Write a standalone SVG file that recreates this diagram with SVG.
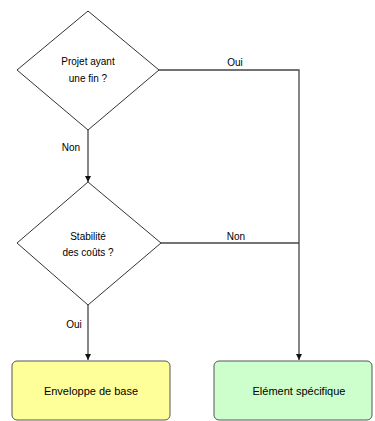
<svg xmlns="http://www.w3.org/2000/svg" width="375" height="421" viewBox="0 0 375 421">
<style>
.dia{fill:#ffffff;stroke:#333333;stroke-width:1}
.box{stroke:#555555;stroke-width:1}
.t{font-family:"Liberation Sans",Arial,sans-serif;font-size:10px;fill:#000;text-anchor:middle}
.lbl{font-family:"Liberation Sans",Arial,sans-serif;font-size:10px;fill:#000;text-anchor:middle}
.ln{fill:none;stroke:#444444;stroke-width:1.3}
</style>
<defs>
<marker id="arr" viewBox="0 0 10 10" refX="10" refY="5" markerWidth="6" markerHeight="6" markerUnits="userSpaceOnUse" orient="auto">
<path d="M0,0 L10,5 L0,10 z" fill="#111"/>
</marker>
</defs>
<rect width="375" height="421" fill="#ffffff"/>
<g id="connectors">
<path class="ln" d="M88,130 L88,182" marker-end="url(#arr)"/>
<text class="lbl" x="71" y="151">Non</text>
<path class="ln" d="M159,70 L299,70 L299,360" marker-end="url(#arr)"/>
<text class="lbl" x="235" y="66">Oui</text>
<path class="ln" d="M161,243 L299,243"/>
<text class="lbl" x="236" y="240">Non</text>
<path class="ln" d="M88,305 L88,360" marker-end="url(#arr)"/>
<text class="lbl" x="74" y="328">Oui</text>
</g>
<g id="d1">
<polygon class="dia" points="88,11 159,70 88,130 17,70"/>
<text class="t" x="88" y="65">Projet ayant</text>
<text class="t" x="88" y="82">une fin ?</text>
</g>
<g id="d2">
<polygon class="dia" points="88,182 161,243 88,305 17,243"/>
<text class="t" x="88" y="240">Stabilité</text>
<text class="t" x="88" y="256">des coûts ?</text>
</g>
<g id="b1">
<rect class="box" x="12" y="361" width="158" height="59" rx="5" fill="#ffff99"/>
<text class="t" x="91" y="395" font-size="11" style="font-size:11px">Enveloppe de base</text>
</g>
<g id="b2">
<rect class="box" x="214" y="361" width="158" height="59" rx="5" fill="#ccffcc"/>
<text class="t" x="299" y="395" style="font-size:11px">Elément spécifique</text>
</g>
</svg>
